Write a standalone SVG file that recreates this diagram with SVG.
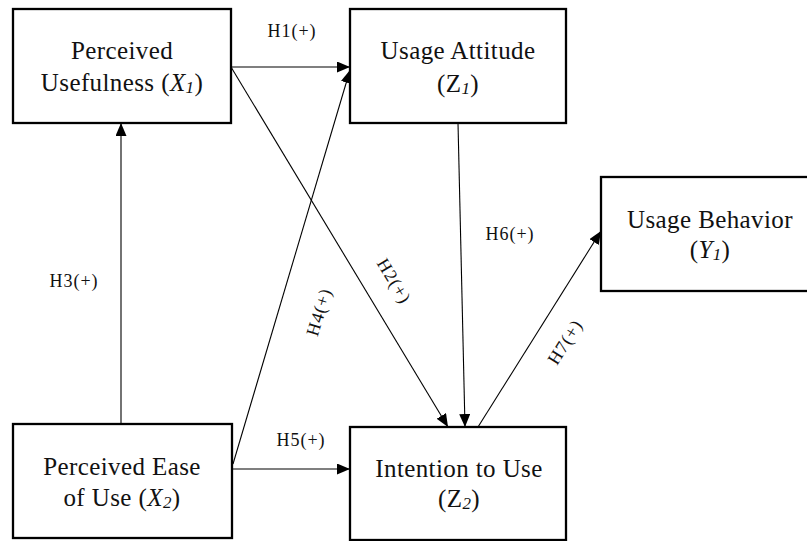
<svg xmlns="http://www.w3.org/2000/svg" width="807" height="541" viewBox="0 0 807 541">
<defs>
<style>
.box{fill:#fff;stroke:#000;stroke-width:2.3}
.t{font-family:"Liberation Serif",serif;font-size:25px;letter-spacing:0.4px;text-anchor:middle;fill:#111}
.i{font-style:italic}
.s{font-style:italic;font-size:17px}
.lbl{font-family:"Liberation Serif",serif;font-size:18px;letter-spacing:1px;text-anchor:middle;fill:#111}
.c{stroke:#000;stroke-width:1.1;fill:none;marker-end:url(#ah)}
</style>
<marker id="ah" markerUnits="userSpaceOnUse" markerWidth="13" markerHeight="11" refX="13" refY="5.5" orient="auto">
<path d="M0,0 L13,5.5 L0,11 z" fill="#000"/>
</marker>
</defs>
<rect width="807" height="541" fill="#fff"/>
<g id="connectors">
<line class="c" x1="231" y1="67" x2="350" y2="67"/>
<line class="c" x1="231" y1="67" x2="448" y2="427"/>
<line class="c" x1="121" y1="424" x2="121" y2="123"/>
<line class="c" x1="233" y1="464" x2="350" y2="70"/>
<line class="c" x1="233" y1="469" x2="350" y2="469"/>
<line class="c" x1="458" y1="123" x2="465" y2="427"/>
<line class="c" x1="478" y1="427" x2="601" y2="231"/>
<text class="lbl" x="292" y="37">H1(+)</text>
<text class="lbl" x="74" y="287">H3(+)</text>
<text class="lbl" x="301" y="446">H5(+)</text>
<text class="lbl" x="510" y="240">H6(+)</text>
<text class="lbl" transform="translate(394,281) rotate(59)" y="6">H2(+)</text>
<text class="lbl" transform="translate(319,312) rotate(-73)" y="6">H4(+)</text>
<text class="lbl" transform="translate(565,342) rotate(-58)" y="6">H7(+)</text>
</g>
<g id="perceived-usefulness">
<rect class="box" x="13" y="9" width="218" height="114"/>
<text class="t" x="122" y="59">Perceived</text>
<text class="t" x="122" y="91">Usefulness (<tspan class="i">X</tspan><tspan class="s" baseline-shift="-2">1</tspan>)</text>
</g>
<g id="usage-attitude">
<rect class="box" x="350" y="9" width="216" height="114"/>
<text class="t" x="458" y="59">Usage Attitude</text>
<text class="t" x="458" y="92">(Z<tspan class="s" baseline-shift="-2">1</tspan>)</text>
</g>
<g id="usage-behavior">
<rect class="box" x="601" y="177" width="218" height="114"/>
<text class="t" x="710" y="228">Usage Behavior</text>
<text class="t" x="710" y="258">(<tspan class="i">Y</tspan><tspan class="s" baseline-shift="-2">1</tspan>)</text>
</g>
<g id="perceived-ease-of-use">
<rect class="box" x="13" y="424" width="219" height="114"/>
<text class="t" x="122" y="475">Perceived Ease</text>
<text class="t" x="122" y="506">of Use (<tspan class="i">X</tspan><tspan class="s" baseline-shift="-2">2</tspan>)</text>
</g>
<g id="intention-to-use">
<rect class="box" x="350" y="427" width="216" height="113"/>
<text class="t" x="459" y="477">Intention to Use</text>
<text class="t" x="459" y="507">(Z<tspan class="s" baseline-shift="-2">2</tspan>)</text>
</g>
</svg>
